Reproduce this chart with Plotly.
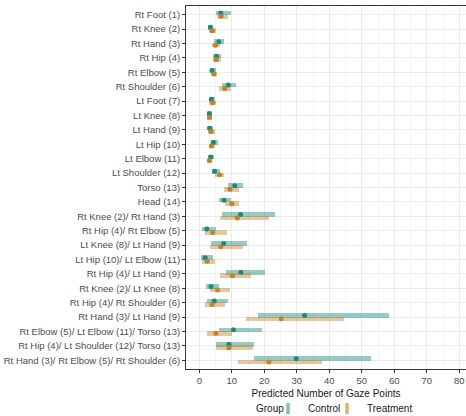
import plotly.graph_objects as go

categories = [
    "Rt Foot (1)", "Rt Knee (2)", "Rt Hand (3)", "Rt Hip (4)", "Rt Elbow (5)",
    "Rt Shoulder (6)", "Lt Foot (7)", "Lt Knee (8)", "Lt Hand (9)", "Lt Hip (10)",
    "Lt Elbow (11)", "Lt Shoulder (12)", "Torso (13)", "Head (14)",
    "Rt Knee (2)/ Rt Hand (3)", "Rt Hip (4)/ Rt Elbow (5)", "Lt Knee (8)/ Lt Hand (9)",
    "Lt Hip (10)/ Lt Elbow (11)", "Rt Hip (4)/ Lt Hand (9)", "Rt Knee (2)/ Lt Knee (8)",
    "Rt Hip (4)/ Rt Shoulder (6)", "Rt Hand (3)/ Lt Hand (9)",
    "Rt Elbow (5)/ Lt Elbow (11)/ Torso (13)", "Rt Hip (4)/ Lt Shoulder (12)/ Torso (13)",
    "Rt Hand (3)/ Rt Elbow (5)/ Rt Shoulder (6)",
]

ctrl_est = [6.6, 3.4, 6.0, 5.3, 3.9, 8.9, 3.7, 3.1, 3.2, 4.3, 3.5, 4.7, 10.9, 7.6,
            12.7, 2.3, 7.5, 1.8, 12.8, 3.6, 4.6, 32.4, 10.5, 9.1, 29.8]
ctrl_lo = [5.1, 2.7, 4.5, 4.1, 3.2, 7.0, 2.9, 2.3, 2.4, 3.5, 2.7, 3.8, 8.7, 6.0,
           6.9, 0.8, 3.7, 0.5, 8.2, 2.1, 2.4, 18.0, 5.9, 5.0, 16.7]
ctrl_hi = [9.6, 4.3, 7.7, 6.7, 5.0, 11.2, 4.7, 4.0, 4.2, 5.7, 4.4, 6.4, 13.5, 9.7,
           23.3, 5.0, 14.8, 4.2, 20.2, 6.1, 8.9, 58.3, 19.2, 16.7, 52.7]

trt_est = [6.7, 4.0, 5.0, 5.2, 4.5, 7.8, 4.1, 3.1, 3.6, 3.7, 3.1, 6.2, 9.4, 10.0,
           11.7, 4.1, 6.6, 2.4, 10.2, 5.6, 3.9, 25.2, 5.1, 9.1, 21.4]
trt_lo = [5.3, 3.1, 3.9, 4.1, 3.6, 6.2, 3.1, 2.4, 2.7, 2.9, 2.4, 4.8, 7.7, 8.0,
          6.5, 1.8, 3.2, 0.9, 6.4, 3.3, 1.7, 14.4, 2.5, 5.0, 11.9]
trt_hi = [8.7, 5.0, 6.4, 6.6, 5.5, 9.8, 5.1, 4.0, 4.7, 4.7, 3.9, 7.6, 12.1, 12.3,
          21.4, 8.4, 13.5, 4.9, 15.8, 9.4, 7.9, 44.5, 9.9, 16.4, 37.7]

x_ticks = [0, 10, 20, 30, 40, 50, 60, 70, 80]

groups = [
    ("Control", ctrl_est, ctrl_lo, ctrl_hi, -0.12, "rgba(26,138,126,0.45)", "#1a8a7e", "#80c2ba", "legend"),
    ("Treatment", trt_est, trt_lo, trt_hi, 0.12, "rgba(195,129,42,0.45)", "#c3812a", "#ddb27a", "legend2"),
]

pos = list(range(len(categories)))
fig = go.Figure()

for name, est, lo, hi, off, barcol, ptcol, keycol, leg in groups:
    fig.add_trace(go.Bar(
        orientation="h", y=[p + off for p in pos], base=lo,
        x=[h - l for h, l in zip(hi, lo)], width=0.32,
        marker=dict(color=barcol, line=dict(width=0)), showlegend=False,
    ))

for name, est, lo, hi, off, barcol, ptcol, keycol, leg in groups:
    fig.add_trace(go.Scatter(
        x=est, y=[p + off for p in pos], mode="markers",
        marker=dict(color=ptcol, size=5), showlegend=False,
    ))

for name, est, lo, hi, off, barcol, ptcol, keycol, leg in groups:
    fig.add_trace(go.Scatter(
        x=[None], y=[None], mode="markers", name=name, legend=leg,
        marker=dict(symbol="line-ns", size=8, color=keycol, line=dict(width=3.5, color=keycol)),
    ))

legend_common = dict(
    orientation="h", xanchor="left", y=-0.109, yanchor="middle",
    font=dict(size=10, color="#1a1a1a"), itemwidth=30,
    valign="middle", bgcolor="rgba(0,0,0,0)",
)

fig.update_layout(
    width=466, height=416,
    margin=dict(l=186, r=0, t=6, b=47, autoexpand=False),
    paper_bgcolor="white", plot_bgcolor="white",
    barmode="overlay", bargap=0,
    font=dict(family="Liberation Sans, Arial, sans-serif", size=9, color="#4d4d4d"),
    showlegend=True,
    legend=dict(x=0.293, **legend_common),
    legend2=dict(x=0.5036, **legend_common),
    annotations=[dict(
        text="Group", xref="paper", yref="paper", x=0.243, y=-0.109,
        xanchor="left", yanchor="middle", showarrow=False,
        font=dict(size=10, color="#1a1a1a"),
    )],
    xaxis=dict(
        automargin=False,
        range=[-4.1, 82.05], tickvals=x_ticks, ticktext=[str(t) for t in x_ticks],
        showgrid=True, gridcolor="#ebebeb", gridwidth=1,
        minor=dict(dtick=5, tick0=0, showgrid=True, gridcolor="#f4f4f4", gridwidth=0.5),
        zeroline=False, showline=True, linecolor="#333333", linewidth=1, mirror=True,
        ticks="outside", ticklen=3, tickcolor="#333333",
        title=dict(text="Predicted Number of Gaze Points", font=dict(size=10, color="#1a1a1a"), standoff=4),
        tickfont=dict(size=9.5, color="#4d4d4d"),
    ),
    yaxis=dict(
        automargin=False,
        range=[len(categories) - 1 + 0.6, -0.6], tickvals=pos, ticktext=categories,
        showgrid=True, gridcolor="#ebebeb", gridwidth=1,
        zeroline=False, showline=True, linecolor="#333333", linewidth=1,
        ticks="outside", ticklen=3, tickcolor="#333333",
        tickfont=dict(size=9.5, color="#4d4d4d"),
    ),
)

fig.write_html("out.html", config={"displayModeBar": False},
               post_script="document.body.style.margin='0px';")
